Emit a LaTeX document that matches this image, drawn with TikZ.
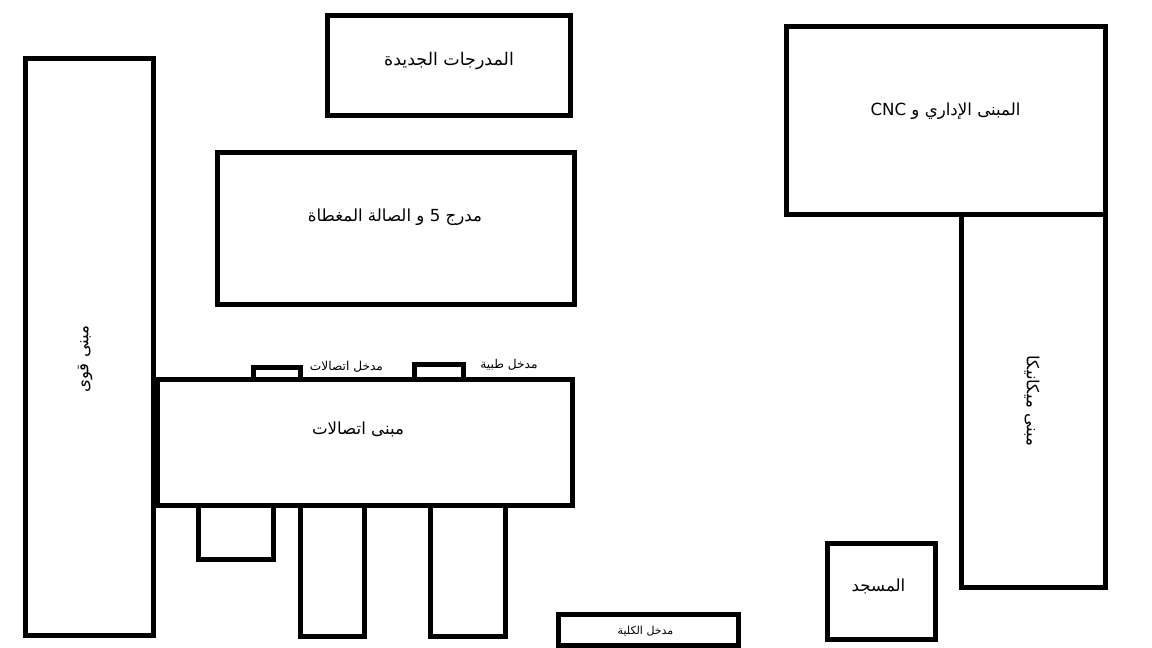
\documentclass[tikz,border=0pt]{standalone}
\usepackage{fontspec}
\newfontfamily\arabicfont[Script=Arabic]{DejaVu Sans}
\TeXXeTstate=1
\newcommand{\artxt}[1]{\arabicfont\beginR #1\endR}
\tikzset{
  bldg/.style={line width=.15cm,draw=black},
  biglabel/.style={font=\fontsize{14.2}{16}\selectfont,inner sep=0pt},
  smalllabel/.style={font=\fontsize{10.4}{12}\selectfont,inner sep=0pt}
}
\begin{document}
\begin{tikzpicture}[x=.03cm,y=-.03cm]
    \useasboundingbox (0,0) rectangle (1152,648);
    % left column
    \draw[bldg] (25.5,58.5) rectangle (153.5,635.5);
    \node[biglabel,rotate=90] (quwaLbl) at (85,359) {\artxt{مبنى قوى}};
    % top middle
    \draw[bldg] (327.5,15.5) rectangle (570,116);
    \node[biglabel,font=\fontsize{14.9}{17}\selectfont] (mudarrajatLbl) at (449,61) {\artxt{المدرجات الجديدة}};
    \draw[bldg] (217.5,152.5) rectangle (574.5,304.5);
    \node[biglabel] (salaLbl) at (395,217) {\artxt{مدرج \beginL 5\endL{} و الصالة المغطاة}};
    % entrances on the roof line
    \draw[bldg] (253.5,367.5) rectangle (300.5,379.3);
    \node[smalllabel] (ittisalatDoorLbl) at (346.5,366.5) {\artxt{مدخل اتصالات}};
    \draw[bldg] (414.5,364.5) rectangle (463.5,379.3);
    \node[smalllabel] (tibbiyaDoorLbl) at (509,364.5) {\artxt{مدخل طبية}};
    % main block and what hangs under it
    \draw[bldg] (157.5,379.3) rectangle (572.5,505);
    \node[biglabel] (ittisalatLbl) at (358,429) {\artxt{مبنى اتصالات}};
    \draw[bldg] (198.5,505) rectangle (273.5,559.5);
    \draw[bldg] (300.5,505) rectangle (364.5,636.5);
    \draw[bldg] (430.5,505) rectangle (505,636);
    % gate
    \draw[bldg] (558.5,614.5) rectangle (738.5,645.5);
    \node[smalllabel,font=\fontsize{9.4}{11}\selectfont] (gateLbl) at (645.5,631) {\artxt{مدخل الكلية}};
    % right side
    \draw[bldg] (786.5,26.5) rectangle (1105.5,214.5);
    \node[biglabel] (cncLbl) at (945.5,111) {\artxt{المبنى الإداري و \beginL CNC\endL}};
    \draw[bldg] (961.5,214.5) rectangle (1105.5,587);
    \node[biglabel,rotate=-90] (mechLbl) at (1032,401) {\artxt{مبنى ميكانيكا}};
    \draw[bldg] (827.5,543.5) rectangle (935.5,639.5);
    \node[biglabel] (masjidLbl) at (878.5,586) {\artxt{المسجد}};
\end{tikzpicture}
\end{document}
